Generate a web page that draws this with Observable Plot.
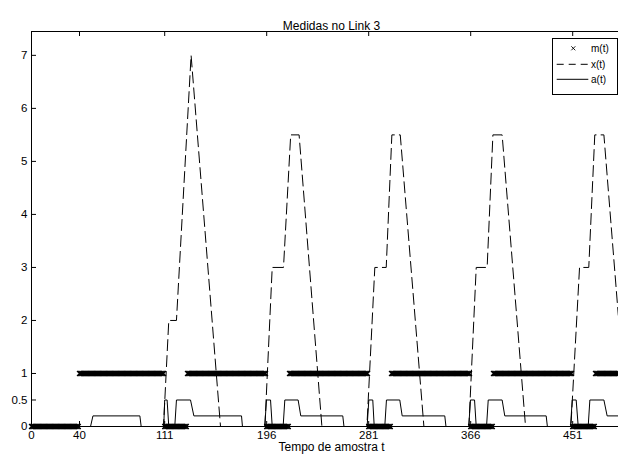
<!DOCTYPE html>
<html><head><meta charset="utf-8">
<script src="https://cdn.jsdelivr.net/npm/d3@7"></script>
<script src="https://cdn.jsdelivr.net/npm/@observablehq/plot@0.6"></script>
<style>
html,body{margin:0;padding:0;background:#fff;overflow:hidden;}
#wrap{position:relative;width:618px;height:457px;overflow:hidden;font-family:"Liberation Sans",Arial,sans-serif;}
#wrap > svg{max-width:none !important;position:absolute;left:0;top:0;}
#legend{position:absolute;left:552px;top:38px;width:66px;height:57px;border:1px solid #000;background:#fff;box-sizing:border-box;}
#legend svg{display:block;}
</style></head><body><div id="wrap"></div>
<script>
const title = "Medidas no Link 3";
const xLabel = "Tempo de amostra t";
const xTicks = [0, 40, 111, 196, 281, 366, 451];
const yTicks = [0, 0.5, 1, 2, 3, 4, 5, 6, 7];
const xDomain = [0, 500];
const yDomain = [0, 7.45];
const seriesNames = ["m(t)", "x(t)", "a(t)"];

// m(t): runs of samples [first t, last t, value]
const mRuns = [
  [0, 39, 0], [40, 110, 1],
  [111, 129, 0], [130, 195, 1],
  [196, 214, 0], [215, 280, 1],
  [281, 299, 0], [300, 365, 1],
  [366, 384, 0], [385, 450, 1],
  [451, 469, 0], [470, 489, 1]
];

// x(t): breakpoints
const xT = [0, 110, 114.4, 120.8, 133, 157.5,
            194.5, 200.6, 210, 216, 223, 242,
            279.5, 286.1, 295.6, 300.3, 307.3, 327,
            364.5, 370.6, 379.7, 384.5, 392.2, 411.7,
            449.5, 456.7, 464.4, 469.4, 477, 489];
const xV = [0, 0, 2, 2, 7, 0,
            0, 3, 3, 5.5, 5.5, 0,
            0, 3, 3, 5.5, 5.5, 0,
            0, 3, 3, 5.5, 5.5, 0,
            0, 3, 3, 5.5, 5.5, 2.1];

// a(t): breakpoints
const aT = [0, 49.2, 51.2, 90.3, 91.4,
            110.2, 111, 113, 114.4, 119.4, 120.8, 132.5, 135.3, 175, 175.8,
            194.4, 195.8, 199.2, 200.6, 209.7, 211.1, 222.2, 224.4, 259.4, 260.4,
            279.7, 281.1, 284.4, 285.6, 294.4, 295.8, 306.9, 308.9, 344.4, 345.4,
            364.4, 365.8, 369.2, 370.6, 379.2, 380.6, 392.2, 394.4, 428.9, 429.9,
            449.2, 450.6, 453.9, 455.6, 463.9, 465.3, 477, 479.7, 489];
const aV = [0, 0, 0.2, 0.2, 0,
            0, 0.5, 0.5, 0, 0, 0.5, 0.5, 0.2, 0.2, 0,
            0, 0.5, 0.5, 0, 0, 0.5, 0.5, 0.2, 0.2, 0,
            0, 0.5, 0.5, 0, 0, 0.5, 0.5, 0.2, 0.2, 0,
            0, 0.5, 0.5, 0, 0, 0.5, 0.5, 0.2, 0.2, 0,
            0, 0.5, 0.5, 0, 0, 0.5, 0.5, 0.2, 0.2];

const mData = mRuns.flatMap(([a, b, v]) => d3.range(a, b + 1).map(t => ({t, v})));
const xData = xT.map((t, i) => ({t, v: xV[i]}));
const aData = aT.map((t, i) => ({t, v: aV[i]}));

const W = 631, H = 457, mL = 31, mR = 0, mT = 31, mB = 31;
const fw = W - mL - mR, fh = H - mT - mB;

const chart = Plot.plot({
  width: W, height: H,
  marginLeft: mL, marginRight: mR, marginTop: mT, marginBottom: mB,
  style: {fontFamily: "'Liberation Sans', Arial, sans-serif", fontSize: "11.5px", color: "#000", background: "#fff", maxWidth: "none"},
  x: {domain: xDomain, axis: null},
  y: {domain: yDomain, axis: null},
  marks: [
    Plot.dot(mData, {x: "t", y: "v", symbol: "times", r: 2.4, stroke: "#000", strokeWidth: 1.2}),
    Plot.line(xData, {x: "t", y: "v", stroke: "#000", strokeWidth: 1, strokeDasharray: "11,5"}),
    Plot.line(aData, {x: "t", y: "v", stroke: "#000", strokeWidth: 1}),
    Plot.frame({stroke: "#000", strokeWidth: 1}),
    Plot.tickX(xTicks, {x: d => d, stroke: "#000", insetBottom: fh - 5}),
    Plot.tickX(xTicks, {x: d => d, stroke: "#000", insetTop: fh - 5}),
    Plot.tickY(yTicks, {y: d => d, stroke: "#000", insetRight: fw - 5}),
    Plot.axisX({ticks: xTicks, tickSize: 0, tickPadding: 4, label: null, fontSize: 11.5, tickFormat: d => String(d)}),
    Plot.axisY({ticks: yTicks, tickSize: 0, tickPadding: 4, label: null, fontSize: 11.5, tickFormat: d => String(d)}),
    Plot.text([title], {frameAnchor: "top", dy: -10, fontSize: 12, fill: "#000"}),
    Plot.text([xLabel], {frameAnchor: "bottom", dy: 24.5, fontSize: 12, fill: "#000"})
  ]
});
chart.style.maxWidth = "none";
chart.style.width = W + "px";
chart.style.height = H + "px";
const wrap = document.getElementById("wrap");
wrap.appendChild(chart);

// legend
const lg = document.createElement("div");
lg.id = "legend";
const ns = "http://www.w3.org/2000/svg";
const svg = document.createElementNS(ns, "svg");
svg.setAttribute("width", 64); svg.setAttribute("height", 55);
const rows = [9.3, 25.3, 40.3];
seriesNames.forEach((name, i) => {
  const y = rows[i];
  if (i === 0) {
    const p = document.createElementNS(ns, "path");
    p.setAttribute("d", `M${20.3-2},${y-2}L${20.3+2},${y+2}M${20.3-2},${y+2}L${20.3+2},${y-2}`);
    p.setAttribute("stroke", "#000"); p.setAttribute("stroke-width", 0.9);
    svg.appendChild(p);
  } else {
    const l = document.createElementNS(ns, "line");
    l.setAttribute("x1", 3.7); l.setAttribute("x2", 35.3);
    l.setAttribute("y1", y); l.setAttribute("y2", y);
    l.setAttribute("stroke", "#000"); l.setAttribute("stroke-width", 1);
    if (i === 1) l.setAttribute("stroke-dasharray", "7,5");
    svg.appendChild(l);
  }
  const t = document.createElementNS(ns, "text");
  t.setAttribute("x", 38); t.setAttribute("y", y);
  t.setAttribute("dy", "0.35em");
  t.setAttribute("font-size", 10);
  t.setAttribute("font-family", "'Liberation Sans', Arial, sans-serif");
  t.textContent = name;
  svg.appendChild(t);
});
lg.appendChild(svg);
wrap.appendChild(lg);
</script>
</body></html>
